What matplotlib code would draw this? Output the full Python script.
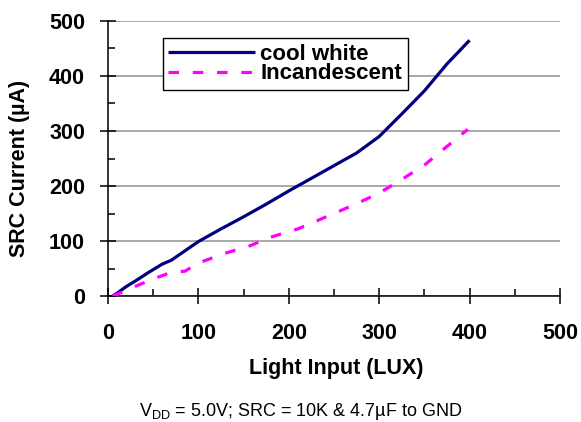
import numpy as np
import matplotlib
matplotlib.use("Agg")
import matplotlib.pyplot as plt
from matplotlib.ticker import MultipleLocator

# values
cool_lux = [5, 10, 20, 30, 45, 60, 70, 85, 100, 125, 150, 175, 200, 225, 250, 275, 300, 325, 350, 375, 400]
cool_ua = [0, 5, 17, 27, 43, 58, 65, 82, 99, 122, 144, 167, 191, 214, 237, 260, 290, 331, 373, 422, 465]

inc_lux = [5, 10, 25, 50, 65, 75, 85, 100, 130, 155, 180, 210, 250, 275, 300, 325, 350, 375, 398]
inc_ua = [0, 3, 14, 31, 40, 44, 45, 60, 78, 90, 107, 122, 150, 168, 187, 212, 238, 272, 303]

series_names = ["cool white", "Incandescent"]
x_label = "Light Input (LUX)"
y_label = "SRC Current (\u00b5A)"
note = "V$_{\\mathrm{DD}}$ = 5.0V; SRC = 10K & 4.7\u00b5F to GND"

plt.rcParams.update({
    "font.family": ["Liberation Sans", "DejaVu Sans"],
    "mathtext.fontset": "custom",
    "mathtext.rm": "Liberation Sans",
    "axes.linewidth": 1.1,
})

fig = plt.figure(figsize=(5.81, 4.22), dpi=100)
ax = fig.add_axes([108 / 581, 1 - 296 / 422, 452 / 581, 275 / 422])

ax.plot(cool_lux, cool_ua, color="#000080", lw=2.3, solid_capstyle="butt", label=series_names[0], zorder=3)
ax.plot(inc_lux, inc_ua, color="#FF00FF", lw=2.3, dashes=(3.3, 4.3), label=series_names[1], zorder=3)

ax.set_xlim(0, 500)
ax.set_ylim(0, 500)
ax.xaxis.set_major_locator(MultipleLocator(100))
ax.xaxis.set_minor_locator(MultipleLocator(50))
ax.yaxis.set_major_locator(MultipleLocator(100))
ax.yaxis.set_minor_locator(MultipleLocator(50))
ax.grid(axis="y", which="major", color="#999999", lw=1.2, zorder=0)
ax.set_axisbelow(True)
for s in ("top", "right"):
    ax.spines[s].set_visible(False)

ax.tick_params(which="major", direction="inout", length=11, width=1.1, color="black", labelsize=15.5)
ax.tick_params(which="minor", direction="in", length=5, width=1.1, color="black")
ax.tick_params(axis="x", which="major", pad=14)
ax.tick_params(axis="y", which="major", pad=11)
for lab in ax.get_xticklabels() + ax.get_yticklabels():
    lab.set_fontweight("bold")

ax.set_xlabel(x_label, fontsize=15.5, fontweight="bold", va="center")
ax.xaxis.set_label_coords(0.504, -0.262)
ax.set_ylabel(y_label, fontsize=15.5, fontweight="bold", va="center")
ax.yaxis.set_label_coords(-0.196, 0.465)

leg = ax.legend(loc="upper left", bbox_to_anchor=(0.121, 0.938), borderaxespad=0,
                prop={"weight": "bold", "size": 16}, handlelength=3.9, handletextpad=0.25,
                labelspacing=-0.05, borderpad=0.25, fancybox=False, framealpha=1)
leg.get_frame().set_edgecolor("black")
leg.get_frame().set_linewidth(1.0)

fig.text(301 / 581, 1 - 411 / 422, note, ha="center", va="center", fontsize=13)

fig.savefig("out.png", dpi=100)
